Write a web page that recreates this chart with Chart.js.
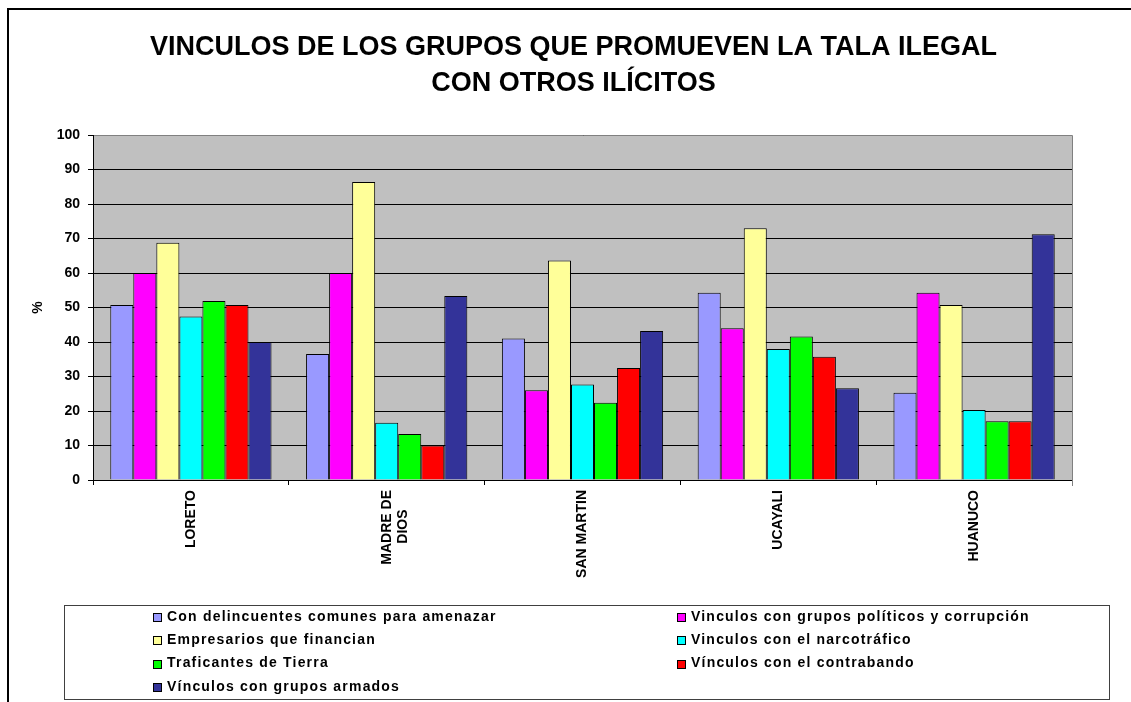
<!DOCTYPE html>
<html>
<head>
<meta charset="utf-8">
<script src="https://cdn.jsdelivr.net/npm/chart.js@4.4.1/dist/chart.umd.min.js"></script>
<style>
  html, body { margin: 0; padding: 0; background: #fff; }
  canvas { display: block; }
</style>
</head>
<body>
<canvas id="myChart" width="1131" height="702"></canvas>
<script>
// regions (x categories); trailing spaces keep the short second line centred
const regions = ['LORETO', ['MADRE DE', 'DIOS     '], 'SAN MARTIN', 'UCAYALI', 'HUANUCO'];

const seriesNames = [
  'Con delincuentes comunes para amenazar',
  'Vinculos con grupos políticos y corrupción',
  'Empresarios que financian',
  'Vinculos con el narcotráfico',
  'Traficantes de Tierra',
  'Vínculos con el contrabando',
  'Vínculos con grupos armados'
];
const seriesColors = ['#9999ff', '#ff00ff', '#ffff99', '#00ffff', '#00ff00', '#ff0000', '#333399'];

// % per region: Loreto, Madre de Dios, San Martin, Ucayali, Huanuco
const delincuentes = [50.7, 36.5, 41.0, 54.3, 25.3];
const politicos    = [60.0, 60.0, 26.0, 44.0, 54.3];
const empresarios  = [68.8, 86.4, 63.6, 73.0, 50.7];
const narcotrafico = [47.4, 16.6, 27.7, 38.0, 20.3];
const tierra       = [51.9, 13.3, 22.4, 41.6, 17.0];
const contrabando  = [50.7, 10.0, 32.5, 35.7, 17.0];
const armados      = [40.0, 53.3, 43.2, 26.6, 71.2];
const seriesValues = [delincuentes, politicos, empresarios, narcotrafico, tierra, contrabando, armados];

const yMin = 0, yMax = 100, yStep = 10;

const FONT = '"Liberation Sans", Arial, sans-serif';

const plotFrame = {
  id: 'plotFrame',
  beforeDraw(chart) {
    const {ctx, chartArea: a} = chart;
    ctx.save();
    ctx.fillStyle = '#c0c0c0';
    ctx.fillRect(a.left, a.top, a.right - a.left, a.bottom - a.top);
    ctx.restore();
  },
  afterDraw(chart) {
    const {ctx, chartArea: a} = chart;
    ctx.save();
    // grey top / right edge of plot area
    const t = Math.floor(a.top) + 0.5, r = Math.floor(a.right) + 0.5;
    ctx.strokeStyle = '#808080';
    ctx.lineWidth = 1;
    ctx.beginPath();
    ctx.moveTo(a.left + 1, t);
    ctx.lineTo(r, t);
    ctx.lineTo(r, a.bottom + 6);
    ctx.stroke();
    // outer chart border (left + top)
    ctx.strokeStyle = '#000';
    ctx.lineWidth = 2;
    ctx.beginPath();
    ctx.moveTo(8, chart.height);
    ctx.lineTo(8, 9);
    ctx.lineTo(chart.width, 9);
    ctx.stroke();
    ctx.restore();
  }
};

// boxed two-column legend
const boxLegend = {
  id: 'boxLegend',
  afterDraw(chart) {
    const ctx = chart.ctx;
    ctx.save();
    ctx.strokeStyle = '#404040';
    ctx.lineWidth = 1;
    ctx.strokeRect(64.5, 605.5, 1045, 94);
    ctx.font = 'bold 14px ' + FONT;
    ctx.textBaseline = 'middle';
    ctx.letterSpacing = '1.2px';
    chart.data.datasets.forEach((ds, i) => {
      const col = i % 2, row = Math.floor(i / 2);
      const x = col ? 677 : 153;
      const y = 617 + row * 23.3;
      const sy = Math.round(y) - 4;
      ctx.fillStyle = ds.backgroundColor;
      ctx.fillRect(x, sy, 8, 8);
      ctx.strokeStyle = '#000';
      ctx.strokeRect(x + 0.5, sy + 0.5, 8, 8);
      ctx.fillStyle = '#000';
      ctx.fillText(ds.label, x + 14, y);
    });
    ctx.restore();
  }
};

const ctx = document.getElementById('myChart');

new Chart(ctx, {
  type: 'bar',
  data: {
    labels: regions,
    datasets: seriesNames.map((name, i) => ({
      label: name,
      data: seriesValues[i],
      backgroundColor: seriesColors[i],
      borderColor: '#000',
      borderWidth: 1,
      categoryPercentage: 7 / 8.5,
      barPercentage: 1
    }))
  },
  options: {
    responsive: false,
    animation: false,
    devicePixelRatio: 1,
    layout: { padding: { left: 16, right: 0, top: 0, bottom: 0 } },
    plugins: {
      legend: { display: false },
      tooltip: { enabled: false },
      title: {
        display: true,
        text: ['VINCULOS DE LOS GRUPOS QUE PROMUEVEN LA TALA ILEGAL', 'CON OTROS ILÍCITOS'],
        color: '#000',
        font: { family: FONT, size: 27, weight: 'bold', lineHeight: 36 / 27 },
        padding: { top: 30, bottom: 33 }
      }
    },
    scales: {
      x: {
        grid: { drawOnChartArea: false, color: '#000', tickLength: 5, offset: true },
        border: { color: '#000', width: 1 },
        ticks: {
          color: '#000',
          font: { family: FONT, size: 14, weight: 'bold' },
          minRotation: 90,
          maxRotation: 90,
          padding: 5,
          autoSkip: false
        },
        afterFit(s) { s.height = 222; }
      },
      y: {
        min: yMin,
        max: yMax,
        ticks: {
          stepSize: yStep,
          color: '#000',
          font: { family: FONT, size: 14, weight: 'bold' },
          padding: 8
        },
        grid: { color: '#000', tickLength: 5 },
        border: { color: '#000' },
        title: {
          display: true,
          text: '%',
          color: '#000',
          font: { family: FONT, size: 14, weight: 'bold' },
          padding: { top: 14, bottom: 0 }
        },
        afterFit(s) { s.width = 77; }
      },
      // empty right-hand spacer so the plot ends where the reference's does
      y2: {
        position: 'right',
        ticks: { display: false },
        grid: { display: false },
        border: { display: false },
        afterFit(s) { s.width = 59; }
      }
    }
  },
  plugins: [plotFrame, boxLegend]
});
</script>
</body>
</html>
